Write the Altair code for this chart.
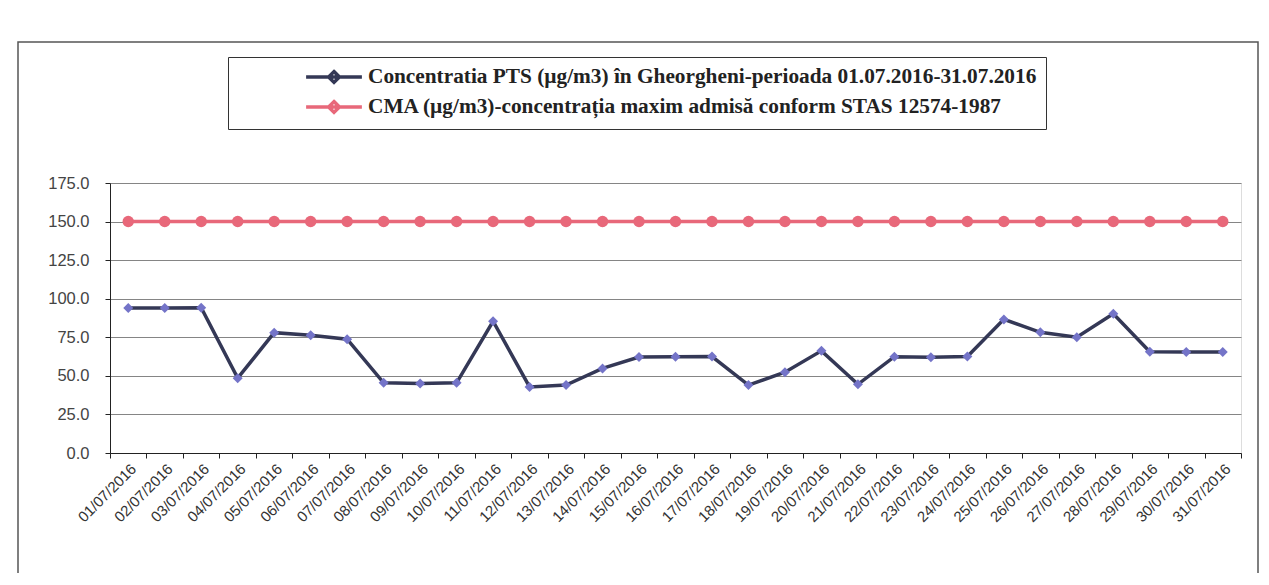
import altair as alt
import pandas as pd

days = ["01/07/2016", "02/07/2016", "03/07/2016", "04/07/2016", "05/07/2016",
        "06/07/2016", "07/07/2016", "08/07/2016", "09/07/2016", "10/07/2016",
        "11/07/2016", "12/07/2016", "13/07/2016", "14/07/2016", "15/07/2016",
        "16/07/2016", "17/07/2016", "18/07/2016", "19/07/2016", "20/07/2016",
        "21/07/2016", "22/07/2016", "23/07/2016", "24/07/2016", "25/07/2016",
        "26/07/2016", "27/07/2016", "28/07/2016", "29/07/2016", "30/07/2016",
        "31/07/2016"]

pts = [94.0, 94.0, 94.2, 48.5, 78.0, 76.3, 73.8, 45.5, 45.0, 45.5,
       85.4, 42.8, 44.0, 54.8, 62.2, 62.4, 62.5, 44.0, 52.4, 66.2,
       44.5, 62.4, 62.0, 62.5, 86.6, 78.2, 75.1, 90.2, 65.6, 65.5, 65.5]

cma = [150.0, 150.0, 150.0, 150.0, 150.0, 150.0, 150.0, 150.0, 150.0, 150.0,
       150.0, 150.0, 150.0, 150.0, 150.0, 150.0, 150.0, 150.0, 150.0, 150.0,
       150.0, 150.0, 150.0, 150.0, 150.0, 150.0, 150.0, 150.0, 150.0, 150.0,
       150.0]

names = ["Concentratia PTS (µg/m3) în Gheorgheni-perioada 01.07.2016-31.07.2016",
         "CMA (µg/m3)-concentrația maxim admisă conform STAS 12574-1987"]

y_ticks = [0, 25, 50, 75, 100, 125, 150, 175]

rows = []
for d, v in zip(days, pts):
    rows.append({"date": d, "value": v, "series": names[0]})
for d, v in zip(days, cma):
    rows.append({"date": d, "value": v, "series": names[1]})
df = pd.DataFrame(rows)

NAVY = "#343856"
PERI = "#7474C8"
RED = "#E8687A"

x_enc = alt.X("date:O", sort=days,
              scale=alt.Scale(type="band", paddingInner=0, paddingOuter=0),
              axis=alt.Axis(title=None, labelAngle=-45, tickBand="extent", grid=False,
                            labelFont="Liberation Sans", labelFontSize=15, labelColor="#333",
                            domainColor="#222", tickColor="#222", tickSize=5, labelPadding=3))
y_enc = alt.Y("value:Q", scale=alt.Scale(domain=[0, 175], nice=False, zero=True),
              axis=alt.Axis(title=None, values=y_ticks, format=".1f", grid=True,
                            gridColor="#858585", gridWidth=1, domainColor="#222",
                            tickColor="#222", tickSize=5, labelFont="Liberation Sans",
                            labelFontSize=16.5, labelColor="#444", labelPadding=16))

base = alt.Chart(df)

lines = base.mark_line(strokeWidth=3.5).encode(
    x=x_enc, y=y_enc,
    color=alt.Color("series:N", sort=names,
                    scale=alt.Scale(domain=names, range=[NAVY, RED]),
                    legend=alt.Legend(
                        title="\u00a0", titleOrient="left", titlePadding=86,
                        orient="none", legendX=118, legendY=-126,
                        direction="vertical",
                        strokeColor="#333", fillColor="white", padding=9,
                        labelFont="Liberation Serif", labelFontWeight="bold",
                        labelFontSize=21.3, labelColor="#222", labelLimit=1000,
                        labelOffset=23, rowPadding=4,
                        symbolType="M-3.1,0L3.1,0M0,-0.6L0.6,0L0,0.6L-0.6,0Z",
                        symbolSize=324, symbolStrokeWidth=3.5)),
)

pts1 = base.transform_filter(alt.datum.series == names[0]).mark_point(
    filled=True, shape="diamond", size=100, color=PERI, opacity=1
).encode(x=x_enc, y=y_enc)

pts2 = base.transform_filter(alt.datum.series == names[1]).mark_point(
    filled=True, shape="circle", size=130, color=RED, opacity=1
).encode(x=x_enc, y=y_enc)

frame = alt.Chart(pd.DataFrame({"k": [0]})).mark_rect(
    fillOpacity=0, stroke="#555", strokeWidth=1.5
).encode(x=alt.value(-92), x2=alt.value(1148), y=alt.value(-141), y2=alt.value(392))

chart = alt.layer(frame, lines, pts1, pts2).properties(
    width=1131, height=270,
    autosize=alt.AutoSizeParams(type="none"),
    padding={"left": 102, "top": 175, "right": 20, "bottom": 120},
).configure_view(stroke="#999", strokeWidth=1).configure(background="white")

chart.save("out.html", embed_options={"renderer": "svg", "actions": False})
